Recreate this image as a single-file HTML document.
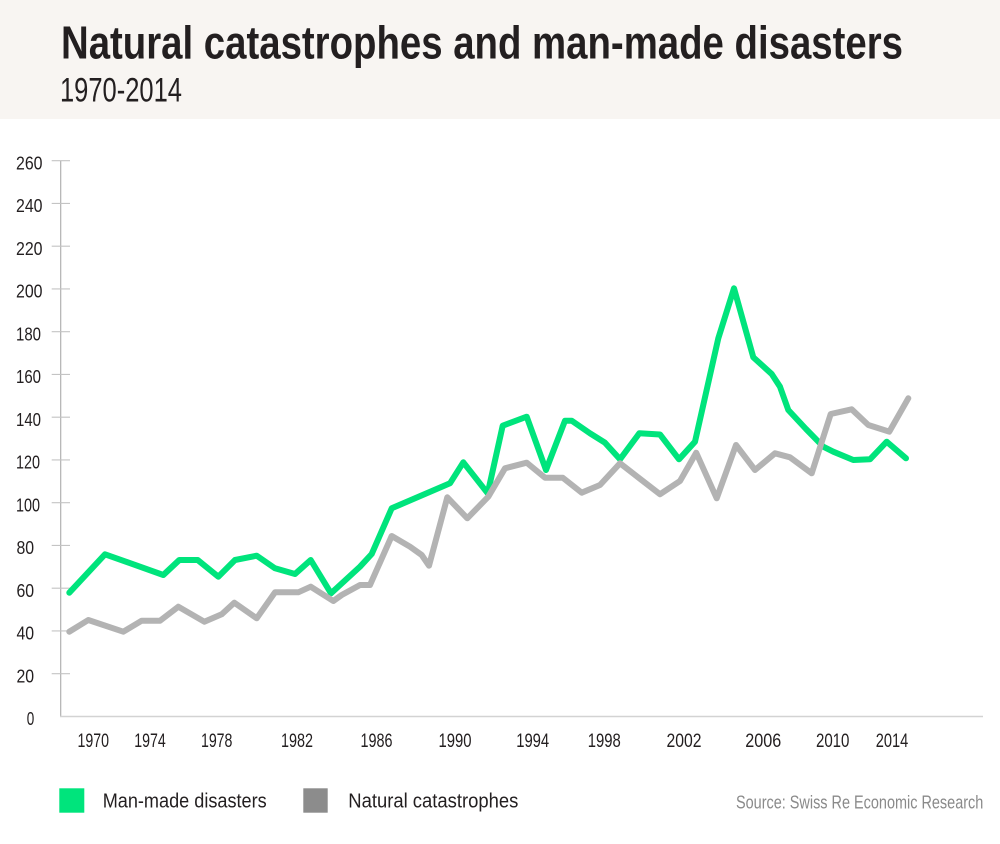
<!DOCTYPE html>
<html>
<head>
<meta charset="utf-8">
<style>
  html,body{margin:0;padding:0;background:#fff;}
  svg{display:block;}
  text{font-family:"Liberation Sans Narrow","Liberation Sans",sans-serif;}
</style>
</head>
<body>
<svg width="1000" height="844" viewBox="0 0 1000 844" xmlns="http://www.w3.org/2000/svg">
  <rect x="0" y="0" width="1000" height="844" fill="#ffffff"/>
  <rect x="0" y="0" width="1000" height="119" fill="#f8f5f2"/>
  <text x="61" y="58.3" font-size="46" font-weight="bold" fill="#231f20" textLength="842" lengthAdjust="spacingAndGlyphs">Natural catastrophes and man-made disasters</text>
  <text x="60" y="101.7" font-size="34.5" fill="#231f20" textLength="122" lengthAdjust="spacingAndGlyphs">1970-2014</text>

  <!-- axes -->
  <line x1="60.7" y1="160.7" x2="60.7" y2="716.5" stroke="#b0b0b0" stroke-width="1.2"/>
  <line x1="60" y1="716.5" x2="983" y2="716.5" stroke="#d3d3d3" stroke-width="1.6"/>
  <g stroke="#c4c4c4" stroke-width="1.2">
    <line x1="51.7" y1="160.7" x2="70" y2="160.7"/>
    <line x1="51.7" y1="203.45" x2="70" y2="203.45"/>
    <line x1="51.7" y1="246.2" x2="70" y2="246.2"/>
    <line x1="51.7" y1="288.95" x2="70" y2="288.95"/>
    <line x1="51.7" y1="331.7" x2="70" y2="331.7"/>
    <line x1="51.7" y1="374.45" x2="70" y2="374.45"/>
    <line x1="51.7" y1="417.2" x2="70" y2="417.2"/>
    <line x1="51.7" y1="459.95" x2="70" y2="459.95"/>
    <line x1="51.7" y1="502.7" x2="70" y2="502.7"/>
    <line x1="51.7" y1="545.45" x2="70" y2="545.45"/>
    <line x1="51.7" y1="588.2" x2="70" y2="588.2"/>
    <line x1="51.7" y1="630.95" x2="70" y2="630.95"/>
    <line x1="51.7" y1="673.7" x2="70" y2="673.7"/>
  </g>

  <!-- y labels -->
  <g font-size="18.5" fill="#231f20">
    <text x="16" y="169.3" textLength="26.5" lengthAdjust="spacingAndGlyphs">260</text>
    <text x="16" y="212.05" textLength="26.5" lengthAdjust="spacingAndGlyphs">240</text>
    <text x="16" y="254.8" textLength="26.5" lengthAdjust="spacingAndGlyphs">220</text>
    <text x="16" y="297.55" textLength="26.5" lengthAdjust="spacingAndGlyphs">200</text>
    <text x="16" y="340.3" textLength="25" lengthAdjust="spacingAndGlyphs">180</text>
    <text x="16" y="383.05" textLength="25" lengthAdjust="spacingAndGlyphs">160</text>
    <text x="16" y="425.8" textLength="25" lengthAdjust="spacingAndGlyphs">140</text>
    <text x="16" y="468.55" textLength="24" lengthAdjust="spacingAndGlyphs">120</text>
    <text x="16" y="511.3" textLength="24" lengthAdjust="spacingAndGlyphs">100</text>
    <text x="16.5" y="554.05" textLength="17.6" lengthAdjust="spacingAndGlyphs">80</text>
    <text x="16.5" y="596.8" textLength="17.6" lengthAdjust="spacingAndGlyphs">60</text>
    <text x="16.5" y="639.55" textLength="17.6" lengthAdjust="spacingAndGlyphs">40</text>
    <text x="16.5" y="682.3" textLength="17.6" lengthAdjust="spacingAndGlyphs">20</text>
    <text x="26.7" y="725" textLength="7.5" lengthAdjust="spacingAndGlyphs">0</text>
  </g>

  <!-- x labels -->
  <g font-size="19.5" fill="#231f20" text-anchor="middle">
    <text x="93.3" y="747" textLength="31.5" lengthAdjust="spacingAndGlyphs">1970</text>
    <text x="150" y="747" textLength="31.5" lengthAdjust="spacingAndGlyphs">1974</text>
    <text x="216.7" y="747" textLength="31.5" lengthAdjust="spacingAndGlyphs">1978</text>
    <text x="297" y="747" textLength="32" lengthAdjust="spacingAndGlyphs">1982</text>
    <text x="376.5" y="747" textLength="32" lengthAdjust="spacingAndGlyphs">1986</text>
    <text x="455" y="747" textLength="33" lengthAdjust="spacingAndGlyphs">1990</text>
    <text x="532.7" y="747" textLength="33" lengthAdjust="spacingAndGlyphs">1994</text>
    <text x="604.3" y="747" textLength="33" lengthAdjust="spacingAndGlyphs">1998</text>
    <text x="684" y="747" textLength="35" lengthAdjust="spacingAndGlyphs">2002</text>
    <text x="763.3" y="747" textLength="36" lengthAdjust="spacingAndGlyphs">2006</text>
    <text x="832.7" y="747" textLength="33.5" lengthAdjust="spacingAndGlyphs">2010</text>
    <text x="892" y="747" textLength="32.5" lengthAdjust="spacingAndGlyphs">2014</text>
  </g>

  <!-- man-made (green) -->
  <polyline fill="none" stroke="#00e47c" stroke-width="6" stroke-linejoin="round" stroke-linecap="round"
    points="69.3,592.7 105,554.3 163.3,575 179.3,560 197.7,560 218.3,576.7 235,560 256.7,555.7 275,568.3 295,574 310.7,560 331,593.3 360,566.7 371.7,554 391.7,508.3 450,483.3 463.3,462.3 487.7,493.3 502.7,425.7 526.7,416.7 546,470 565,420.7 571.7,420.7 590,433.3 605,442.7 620,459.3 639.3,433.3 660,434.5 679,459.3 695,441.7 718.3,338.3 734,288.3 753.3,357.3 771.7,374 780,386.7 788.3,410 806,429 823.3,446.7 833.3,451.7 853.3,460 870,459.3 886.7,441.7 906,458.3"/>

  <!-- natural (gray) -->
  <polyline fill="none" stroke="#b3b3b3" stroke-width="6" stroke-linejoin="round" stroke-linecap="round"
    points="69.3,631.7 88.3,620 123.3,631.7 141.7,620.7 160,620.7 178.3,606.7 204.3,621.7 221.7,614.3 234.3,602.7 256.7,618.3 275,592.3 298.3,592.3 310.7,586.7 333.3,601 341.7,595 360,585 370,585 391.7,536 410,546.7 421.7,555 429,565.7 447.3,497.3 467.3,518.3 488.3,496.7 505,468.3 526.7,462.7 545,477.7 562.7,477.7 581.7,492.7 600,485 620,463.3 660,494.3 680,481 696.2,452.7 716.7,498.3 736,445 755,470 775,453.3 790,457.3 811.7,473.3 830.7,414 851.7,409.3 868.3,425 889.3,431.7 908.3,398.3"/>

  <!-- legend -->
  <rect x="59.3" y="788.3" width="25" height="24.4" fill="#00e47c"/>
  <text x="102.7" y="807.5" font-size="20" fill="#231f20" textLength="164" lengthAdjust="spacingAndGlyphs">Man-made disasters</text>
  <rect x="303.3" y="788.3" width="24.4" height="24.4" fill="#8c8c8c"/>
  <text x="348.3" y="807.5" font-size="20" fill="#231f20" textLength="170" lengthAdjust="spacingAndGlyphs">Natural catastrophes</text>
  <text x="736" y="808.3" font-size="18.5" fill="#8a8a8a" textLength="247.3" lengthAdjust="spacingAndGlyphs">Source: Swiss Re Economic Research</text>
</svg>
</body>
</html>
